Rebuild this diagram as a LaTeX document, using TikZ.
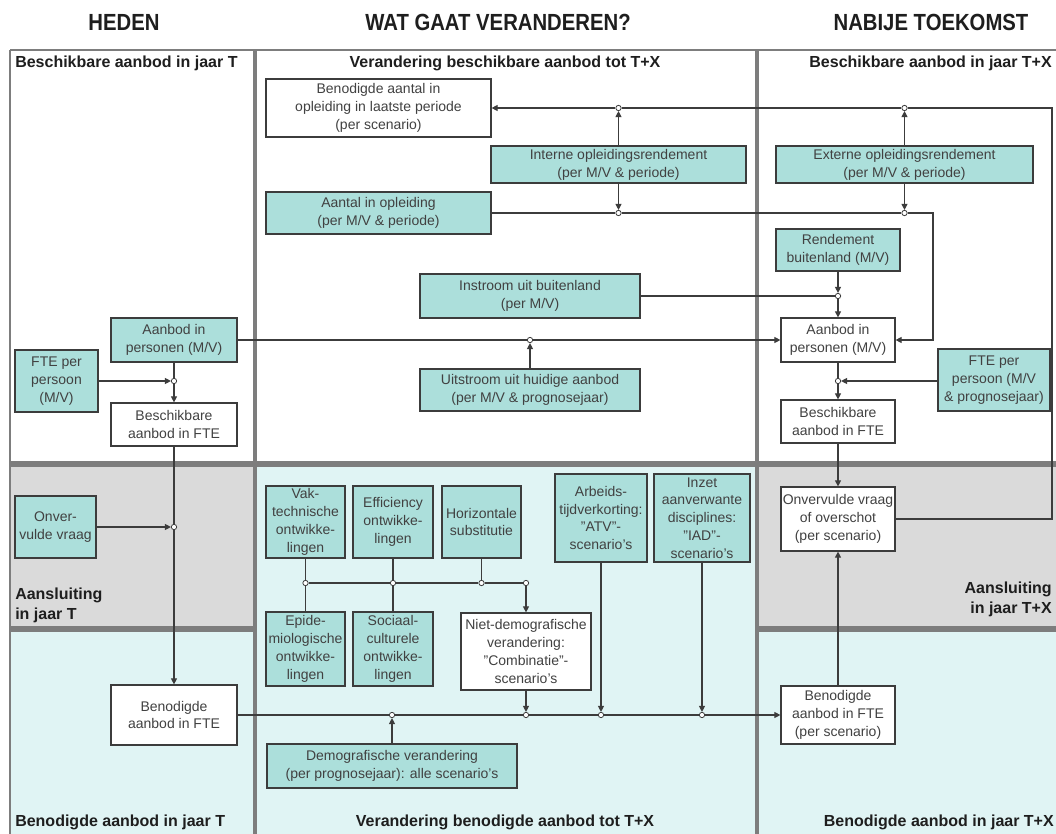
\documentclass[tikz,border=0pt]{standalone}
\usepackage{fontspec}
\setmainfont{Liberation Sans}
\newfontfamily\titlefont[FakeStretch=0.87]{Liberation Sans}
\usetikzlibrary{arrows.meta}
\definecolor{cyanbox}{RGB}{172,223,219}
\definecolor{lightband}{RGB}{224,244,244}
\definecolor{grayband}{RGB}{218,218,218}
\definecolor{sepc}{RGB}{125,125,125}
\definecolor{ink}{RGB}{60,60,60}
\definecolor{txt}{RGB}{65,65,65}
\definecolor{hdrc}{RGB}{30,30,30}
\newcommand\bx[7]{\node[#6, minimum width={(#4-#2)*0.75pt}, minimum height={(#5-#3)*0.75pt}] (#1) at ({(#2+#4)/2},{(#3+#5)/2}) {#7};}
\tikzset{
  box/.style={draw=ink, line width=0.9pt, inner sep=0pt, align=center, font=\fontsize{10.5}{13.4}\selectfont, text=txt},
  cbox/.style={box, fill=cyanbox},
  wbox/.style={box, fill=white},
  ln/.style={draw=ink, line width=0.8pt},
  arr/.style={ln, -{Triangle[width=4.5pt,length=4.5pt]}},
  junc/.style={circle, draw=ink, fill=white, line width=0.6pt, inner sep=0pt, minimum size=4pt},
  hdr/.style={inner sep=0pt, font=\fontsize{12}{14.5}\selectfont\bfseries, text=hdrc},
  ttl/.style={inner sep=0pt, font=\titlefont\fontsize{17.5}{20}\selectfont\bfseries, text=hdrc},
  sepl/.style={draw=sepc},
}
\begin{document}
\begin{tikzpicture}[x=0.75pt,y=-0.75pt]
\useasboundingbox (0,0) rectangle (1056,834);
\fill[white] (0,0) rectangle (1056,834);
% backgrounds
\fill[grayband] (10,464) rectangle (255,629);
\fill[grayband] (757,464) rectangle (1056,629);
\fill[lightband] (255,464) rectangle (757,834);
\fill[lightband] (10,629) rectangle (255,834);
\fill[lightband] (757,629) rectangle (1056,834);
% separators
\draw[sepl, line width=1.5pt] (10,50) -- (1056,50);
\draw[sepl, line width=1.5pt] (10,50) -- (10,834);
\draw[sepl, line width=3.5pt] (255,50) -- (255,834);
\draw[sepl, line width=3.5pt] (757,50) -- (757,834);
\draw[sepl, line width=5pt] (10,464) -- (1056,464);
\draw[sepl, line width=5pt] (10,629) -- (253,629);
\draw[sepl, line width=5pt] (759,629) -- (1056,629);
% titles
\node[ttl] (t1) at (124,22) {HEDEN};
\node[ttl] (t2) at (498,22) {WAT GAAT VERANDEREN?};
\node[ttl] (t3) at (931,22) {NABIJE TOEKOMST};
% headers
\node[hdr, anchor=west] (h1) at (15,63) {Beschikbare aanbod in jaar T};
\node[hdr] (h2) at (505,63) {Verandering beschikbare aanbod tot T+X};
\node[hdr, anchor=east] (h3) at (1052,63) {Beschikbare aanbod in jaar T+X};
\node[hdr, anchor=west] (b1) at (15,822) {Benodigde aanbod in jaar T};
\node[hdr] (b2) at (505,822) {Verandering benodigde aanbod tot T+X};
\node[hdr, anchor=east] (b3) at (1054,822) {Benodigde aanbod in jaar T+X};
\node[hdr, anchor=north west, align=left] (a1) at (15,588) {Aansluiting\\in jaar T};
\node[hdr, anchor=north east, align=right] (a2) at (1052,582) {Aansluiting\\in jaar T+X};
% left column
\bx{aanbodL}{111}{318}{237}{362}{cbox}{Aanbod in\\personen (M/V)}
\bx{fteL}{15}{350}{98}{412}{cbox}{FTE per\\persoon\\(M/V)}
\bx{beschL}{111}{403}{237}{446}{wbox}{Beschikbare\\aanbod in FTE}
\bx{onvL}{15}{496}{96}{558}{cbox}{Onver-\\vulde vraag}
\bx{benL}{111}{685}{237}{745}{wbox}{Benodigde\\aanbod in FTE}
% middle top
\bx{benaant}{266}{79}{491}{137}{wbox}{Benodigde aantal in\\opleiding in laatste periode\\(per scenario)}
\bx{interne}{491}{146}{746}{183}{cbox}{Interne opleidingsrendement\\(per M/V \& periode)}
\bx{aantal}{266}{192}{491}{234}{cbox}{Aantal in opleiding\\(per M/V \& periode)}
\bx{instroom}{420}{274}{640}{318}{cbox}{Instroom uit buitenland\\(per M/V)}
\bx{uitstroom}{420}{369}{640}{411}{cbox}{Uitstroom uit huidige aanbod\\(per M/V \& prognosejaar)}
% right column
\bx{externe}{776}{146}{1033}{183}{cbox}{Externe opleidingsrendement\\(per M/V \& periode)}
\bx{rend}{776}{229}{900}{271}{cbox}{Rendement\\buitenland (M/V)}
\bx{aanbodR}{781}{318}{895}{362}{wbox}{Aanbod in\\personen (M/V)}
\bx{fteR}{938}{349}{1050}{411}{cbox}{FTE per\\persoon (M/V\\\& prognosejaar)}
\bx{beschR}{781}{400}{895}{443}{wbox}{Beschikbare\\aanbod in FTE}
\bx{onvR}{781}{487}{895}{551}{wbox}{Onvervulde vraag\\of overschot\\(per scenario)}
\bx{benR}{781}{686}{895}{744}{wbox}{Benodigde\\aanbod in FTE\\(per scenario)}
% middle bottom
\bx{vak}{266}{486}{345}{558}{cbox}{Vak-\\technische\\ontwikke-\\lingen}
\bx{eff}{353}{486}{433}{558}{cbox}{Efficiency\\ontwikke-\\lingen}
\bx{hor}{442}{486}{521}{558}{cbox}{Horizontale\\substitutie}
\bx{epi}{266}{612}{345}{686}{cbox}{Epide-\\miologische\\ontwikke-\\lingen}
\bx{soc}{353}{612}{433}{686}{cbox}{Sociaal-\\culturele\\ontwikke-\\lingen}
\bx{niet}{461}{613}{591}{690}{wbox}{Niet-demografische\\verandering:\\"Combinatie"-\\scenario's}
\bx{atv}{555}{474}{647}{562}{cbox}{Arbeids-\\tijdverkorting:\\"ATV"-\\scenario's}
\bx{iad}{654}{474}{750}{562}{cbox}{Inzet\\aanverwante\\disciplines:\\"IAD"-\\scenario's}
\bx{dem}{267}{744}{517}{788}{cbox}{Demografische verandering\\(per prognosejaar): alle scenario's}
% junctions
\node[junc] (jfteL) at (174,381) {};
\node[junc] (jonvL) at (174,527) {};
\node[junc] (jti) at (618.5,108) {};
\node[junc] (jii) at (618.5,213) {};
\node[junc] (jte) at (904.5,108) {};
\node[junc] (jei) at (904.5,213) {};
\node[junc] (jrb) at (838,296) {};
\node[junc] (juit) at (530,340) {};
\node[junc] (jfteR) at (838,381) {};
\node[junc] (jv) at (305.5,583) {};
\node[junc] (je) at (393,583) {};
\node[junc] (jh) at (481.5,583) {};
\node[junc] (jc) at (526,583) {};
\node[junc] (jdem) at (392,715) {};
\node[junc] (jniet) at (526,715) {};
\node[junc] (jatv) at (601,715) {};
\node[junc] (jiad) at (702,715) {};
\coordinate (cR1) at (1052,108);
\coordinate (cR2) at (933,213);
% connectors: top loops
\draw[ln] (onvR.east) -| (cR1) -- (jte);
\draw[ln] (jte) -- (jti);
\draw[arr] (jti) -- (benaant);
\draw[arr] (interne.north -| jti) -- (jti);
\draw[arr] (interne.south -| jii) -- (jii);
\draw[arr] (externe.north -| jte) -- (jte);
\draw[arr] (externe.south -| jei) -- (jei);
\draw[ln] (aantal) -- (jii);
\draw[ln] (jii) -- (jei);
\draw[arr] (jei) -- (cR2) |- (aanbodR.east);
\draw[arr] (rend.south -| jrb) -- (jrb);
\draw[ln] (instroom.east |- jrb) -- (jrb);
\draw[arr] (jrb) -- (aanbodR.north -| jrb);
\draw[ln] (aanbodL.east |- juit) -- (juit);
\draw[arr] (juit) -- (aanbodR.west |- juit);
\draw[arr] (uitstroom.north -| juit) -- (juit);
% left column
\draw[ln] (aanbodL.south -| jfteL) -- (jfteL);
\draw[arr] (fteL.east |- jfteL) -- (jfteL);
\draw[arr] (jfteL) -- (beschL.north -| jfteL);
\draw[ln] (beschL.south -| jonvL) -- (jonvL);
\draw[arr] (onvL.east |- jonvL) -- (jonvL);
\draw[arr] (jonvL) -- (benL.north -| jonvL);
% right column
\draw[ln] (aanbodR.south -| jfteR) -- (jfteR);
\draw[arr] (fteR.west |- jfteR) -- (jfteR);
\draw[arr] (jfteR) -- (beschR.north -| jfteR);
\draw[arr] (beschR.south) -- (onvR.north);
\draw[arr] (benR.north) -- (onvR.south);
% cluster
\draw[ln] (vak.south -| jv) -- (jv);
\draw[ln] (jv) -- (epi.north -| jv);
\draw[ln] (eff.south -| je) -- (je);
\draw[ln] (je) -- (soc.north -| je);
\draw[ln] (hor.south -| jh) -- (jh);
\draw[ln] (jv) -- (je);
\draw[ln] (je) -- (jh);
\draw[ln] (jh) -- (jc);
\draw[arr] (jc) -- (niet.north -| jc);
% bottom main line
\draw[ln] (benL.east |- jdem) -- (jdem);
\draw[ln] (jdem) -- (jniet);
\draw[ln] (jniet) -- (jatv);
\draw[ln] (jatv) -- (jiad);
\draw[arr] (jiad) -- (benR.west |- jiad);
\draw[arr] (dem.north -| jdem) -- (jdem);
\draw[arr] (niet.south -| jniet) -- (jniet);
\draw[arr] (atv.south -| jatv) -- (jatv);
\draw[arr] (iad.south -| jiad) -- (jiad);
\end{tikzpicture}
\end{document}
